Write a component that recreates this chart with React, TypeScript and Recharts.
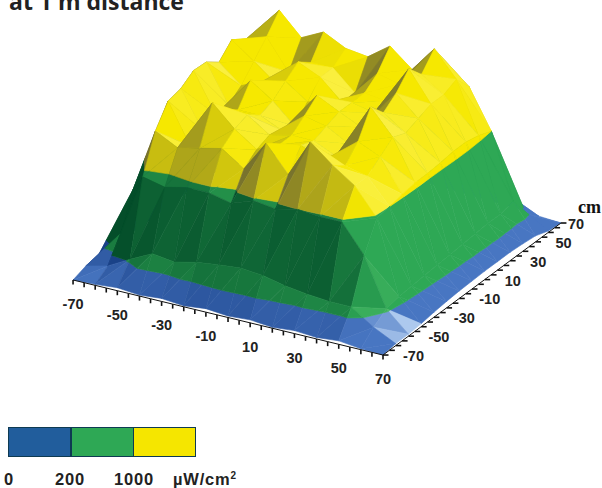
import { Scatter, ScatterChart, XAxis, YAxis } from "recharts";

// grid of the measured plane, cm
const gridX = [-70, -60, -50, -40, -30, -20, -10, 0, 10, 20, 30, 40, 50, 60, 70];
const gridY = [70, 60, 50, 40, 30, 20, 10, 0, -10, -20, -30, -40, -50, -60, -70];

// irradiance in uW/cm2, one row per gridY value
const rowY70 = [5, 15, 40, 60, 80, 90, 80, 70, 80, 70, 60, 50, 40, 15, 0];
const rowY60 = [15, 60, 150, 300, 400, 420, 380, 350, 380, 400, 380, 350, 300, 130, 15];
const rowY50 = [25, 120, 700, 1100, 1200, 1250, 1150, 1100, 1200, 1250, 1300, 1390, 1000, 350, 60];
const rowY40 = [35, 300, 1520, 1820, 1600, 1710, 1600, 1570, 1730, 1550, 1810, 1560, 1050, 320, 75];
const rowY30 = [35, 450, 1560, 1650, 1350, 1500, 1500, 1300, 1550, 1500, 1650, 1500, 1080, 320, 85];
const rowY20 = [35, 500, 1660, 1500, 1330, 1600, 1500, 1300, 1450, 1420, 1800, 1500, 1080, 310, 85];
const rowY10 = [30, 550, 1530, 1350, 1450, 1500, 1350, 1400, 1450, 1400, 1650, 1450, 1060, 300, 85];
const rowY0 = [30, 600, 1627, 1250, 1550, 1400, 1200, 1560, 1450, 1350, 1550, 1400, 1050, 290, 80];
const rowYm10 = [30, 650, 1636, 1250, 1350, 1350, 1250, 1450, 1400, 1280, 1700, 1450, 1050, 280, 75];
const rowYm20 = [35, 700, 1550, 1180, 1450, 1450, 1300, 1350, 1350, 1250, 1450, 1350, 1030, 270, 65];
const rowYm30 = [45, 720, 1520, 1120, 1610, 1400, 1250, 1350, 1400, 1300, 1300, 1250, 1000, 260, 50];
const rowYm40 = [60, 680, 1315, 1200, 1250, 1300, 1150, 1460, 1200, 1580, 1400, 1250, 980, 250, 30];
const rowYm50 = [60, 330, 950, 900, 950, 950, 900, 980, 950, 1000, 980, 980, 700, 220, 20];
const rowYm60 = [45, 100, 220, 330, 300, 350, 380, 400, 380, 330, 300, 280, 280, 130, 20];
const rowYm70 = [0, 10, 30, 10, 30, 10, 35, 15, 30, 10, 30, 15, 35, 10, 0];
const surfaceRows = [rowY70, rowY60, rowY50, rowY40, rowY30, rowY20, rowY10, rowY0, rowYm10, rowYm20, rowYm30, rowYm40, rowYm50, rowYm60, rowYm70];

const axisTicks = [-70, -65, -60, -55, -50, -45, -40, -35, -30, -25, -20, -15, -10, -5, 0, 5, 10, 15, 20, 25, 30, 35, 40, 45, 50, 55, 60, 65, 70];
const axisLabels = [-70, -50, -30, -10, 10, 30, 50, 70];
const legendStops = ["0", "200", "1000"];
const legendColors = ["#215d9c", "#2ea855", "#f5e600"];

const bands = [
  { lo: -1, hi: 200, dark: [25, 65, 135], base: [72, 118, 194], light: [190, 215, 245] },
  { lo: 200, hi: 1000, dark: [4, 78, 42], base: [46, 168, 85], light: [90, 190, 110] },
  { lo: 1000, hi: 99999, dark: [120, 115, 45], base: [246, 232, 0], light: [250, 240, 70] },
];

type P3 = { x: number; y: number; z: number };

// oblique projection of the chart onto the view plane
const viewX = (p: P3) => 317 + 2.214 * p.x + 1.271 * p.y;
const viewY = (p: P3) => 251.5 + 0.536 * p.x - 0.943 * p.y - 0.1 * p.z;

function clipBand(poly: P3[], lo: number, hi: number) {
  const cut = (pts: P3[], inside: (p: P3) => boolean, level: number) => {
    const out: P3[] = [];
    pts.forEach((a, i) => {
      const b = pts[(i + 1) % pts.length];
      if (inside(a)) out.push(a);
      if (inside(a) !== inside(b)) {
        const t = (level - a.z) / (b.z - a.z);
        out.push({ x: a.x + t * (b.x - a.x), y: a.y + t * (b.y - a.y), z: level });
      }
    });
    return out;
  };
  return cut(cut(poly, (p) => p.z >= lo, lo), (p) => p.z <= hi, hi);
}

const mix = (a: number[], b: number[], t: number) => a.map((v, i) => Math.round(v + (b[i] - v) * t));

function shadeOf(t: P3[], band: (typeof bands)[number]) {
  const zs = 0.04;
  const ux = t[1].x - t[0].x, uy = t[1].y - t[0].y, uz = (t[1].z - t[0].z) * zs;
  const vx = t[2].x - t[0].x, vy = t[2].y - t[0].y, vz = (t[2].z - t[0].z) * zs;
  let nx = uy * vz - uz * vy, ny = uz * vx - ux * vz, nz = ux * vy - uy * vx;
  if (nz < 0) { nx = -nx; ny = -ny; nz = -nz; }
  const len = Math.hypot(nx, ny, nz);
  const d = (0.6 * nx + 0.15 * ny + 0.78 * nz) / len;
  // the glossy facets only show up near the front of the plane and on the top
  const cy = (t[0].y + t[1].y + t[2].y) / 3;
  const glossy = cy < -45 || band.lo === 1000;
  const c = d > 0.85
    ? (glossy ? mix(band.base, band.light, (d - 0.85) / 0.15) : band.base)
    : mix(band.dark, band.base, Math.min(1, Math.max(0, d / 0.72)));
  return `rgb(${c.join(",")})`;
}

type Vertex = { px: number; py: number; facet: number };
const facetColors: string[] = [];
const facetPoints: Vertex[] = [];

function addTriangle(t: P3[]) {
  bands.forEach((band) => {
    const poly = clipBand(t, band.lo, band.hi);
    if (poly.length < 3) return;
    const facet = facetColors.length;
    facetColors.push(shadeOf(t, band));
    poly.forEach((p) => facetPoints.push({ px: viewX(p), py: viewY(p), facet }));
  });
}

// back to front: low x and high y are furthest from the viewer
gridX.slice(0, -1).forEach((x0, i) => {
  gridY.slice(0, -1).forEach((y0, j) => {
    const a = { x: x0, y: y0, z: surfaceRows[j][i] };
    const b = { x: gridX[i + 1], y: y0, z: surfaceRows[j][i + 1] };
    const c = { x: x0, y: gridY[j + 1], z: surfaceRows[j + 1][i] };
    const d = { x: gridX[i + 1], y: gridY[j + 1], z: surfaceRows[j + 1][i + 1] };
    addTriangle([a, b, c]);
    addTriangle([b, d, c]);
  });
});

const xTicks = axisTicks.map((t) => ({ x: t, y: -70, z: 0 }));
const yTicks = axisTicks.map((t) => ({ x: 70, y: t, z: 0 }));
const xAxisData = xTicks.map((p) => ({ px: viewX(p), py: viewY(p) }));
const yAxisData = yTicks.map((p) => ({ px: viewX(p), py: viewY(p) }));
const xLabelData = axisLabels.map((t) => ({ px: viewX({ x: t, y: -70, z: 0 }), py: viewY({ x: t, y: -70, z: 0 }), label: t }));
const yLabelData = axisLabels.map((t) => ({ px: viewX({ x: 70, y: t, z: 0 }), py: viewY({ x: 70, y: t, z: 0 }), label: t }));

const noDot = () => <g />;

function renderFacets(props: any) {
  const groups: string[] = facetColors.map(() => "");
  props.points.forEach((pt: any, i: number) => {
    const f = facetPoints[i].facet;
    groups[f] += `${groups[f] ? "L" : "M"}${pt.x} ${pt.y}`;
  });
  return (
    <g>
      {groups.map((d, i) => (
        <path key={i} d={d + "Z"} fill={facetColors[i]} stroke={facetColors[i]} strokeWidth={0.6} strokeLinejoin="round" />
      ))}
    </g>
  );
}

const labelStyle = { fontFamily: "Liberation Sans", fontWeight: 700, fontSize: 14.5, fill: "#222" };

const xTickShape = (p: any) => <line x1={p.cx} y1={p.cy} x2={p.cx} y2={p.cy + 4.5} stroke="#111" strokeWidth={1.6} />;
const yTickShape = (p: any) => <line x1={p.cx} y1={p.cy} x2={p.cx + 5.5} y2={p.cy} stroke="#111" strokeWidth={1.6} />;
const xLabelShape = (p: any) => (
  <text x={p.cx} y={p.cy + 29} textAnchor="middle" style={labelStyle}>{p.payload.label}</text>
);
const yLabelShape = (p: any) => (
  <text x={p.cx + (p.payload.label === 70 ? 7 : 20)} y={p.cy + 6} textAnchor="start" style={labelStyle}>{p.payload.label}</text>
);

const legendText = { position: "absolute", top: 470, fontFamily: "Liberation Sans", fontWeight: 700, fontSize: 16.5, color: "#222", letterSpacing: 0.8 } as const;
const stopLeft = [4, 55, 114];

export default function App() {
  return (
    <div style={{ position: "absolute", left: 0, top: 0, width: 602, height: 488, overflow: "hidden", background: "#fff" }}>
      <div style={{ position: "absolute", left: 9, top: -15, fontFamily: "Open Sans", fontWeight: 700, fontSize: 23, color: "#222", whiteSpace: "nowrap" }}>
        at 1 m distance
      </div>
      <ScatterChart width={602} height={488} margin={{ top: 0, right: 0, bottom: 0, left: 0 }} style={{ position: "absolute", left: 0, top: 0 }}>
        <XAxis type="number" dataKey="px" domain={[0, 602]} allowDataOverflow hide />
        <YAxis type="number" dataKey="py" domain={[0, 488]} reversed allowDataOverflow hide />
        <Scatter data={facetPoints} shape={noDot} line={renderFacets} isAnimationActive={false} />
        <Scatter data={xAxisData} shape={xTickShape} line={{ stroke: "#111", strokeWidth: 1 }} isAnimationActive={false} />
        <Scatter data={yAxisData} shape={yTickShape} line={{ stroke: "#111", strokeWidth: 1 }} isAnimationActive={false} />
        <Scatter data={xLabelData} shape={xLabelShape} isAnimationActive={false} />
        <Scatter data={yLabelData} shape={yLabelShape} isAnimationActive={false} />
      </ScatterChart>
      <div style={{ position: "absolute", left: 578, top: 197, fontFamily: "Liberation Serif", fontWeight: 700, fontSize: 18, color: "#111" }}>cm</div>
      {legendColors.map((c, i) => (
        <div key={c} style={{ position: "absolute", left: 8 + i * 62.5, top: 427, width: 63, height: 30, boxSizing: "border-box", background: c, border: "1.5px solid #0e3a52" }} />
      ))}
      {legendStops.map((s, i) => (
        <div key={s} style={{ ...legendText, left: stopLeft[i] }}>{s}</div>
      ))}
      <div style={{ ...legendText, left: 173 }}>
        µW/cm<sup style={{ fontSize: 10, lineHeight: 0 }}>2</sup>
      </div>
    </div>
  );
}
